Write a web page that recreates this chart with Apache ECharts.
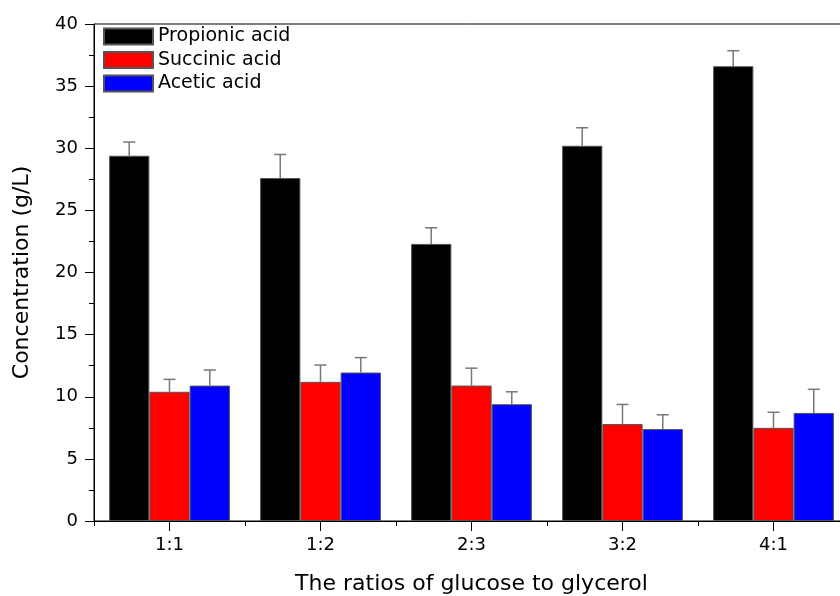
<!DOCTYPE html>
<html>
<head>
<meta charset="utf-8">
<script src="https://cdn.jsdelivr.net/npm/echarts@6/dist/echarts.min.js"></script>
<style>
html,body{margin:0;padding:0;background:#fff;}
#chart{width:840px;height:596px;}
</style>
</head>
<body>
<div id="chart"></div>
<script>
const categories = ['1:1', '1:2', '2:3', '3:2', '4:1'];
const seriesNames = ['Propionic acid', 'Succinic acid', 'Acetic acid'];
const propionic = [29.4, 27.6, 22.3, 30.2, 36.6];
const propionicErr = [1.1, 1.9, 1.3, 1.45, 1.25];
const succinic = [10.4, 11.2, 10.9, 7.8, 7.5];
const succinicErr = [1.0, 1.35, 1.4, 1.58, 1.25];
const acetic = [10.9, 11.95, 9.4, 7.4, 8.7];
const aceticErr = [1.25, 1.2, 1.0, 1.15, 1.9];
const yTicks = [0, 5, 10, 15, 20, 25, 30, 35, 40];

const values = [propionic, succinic, acetic];
const errors = [propionicErr, succinicErr, aceticErr];
const colors = ['#000000', '#ff0000', '#0000ff'];
const FONT = 'DejaVu Sans';
const CAT_GAP = 0.2;

const barSeries = seriesNames.map((name, i) => ({
  name: name,
  type: 'bar',
  data: values[i],
  barGap: '0%',
  barCategoryGap: '20%',
  itemStyle: { color: colors[i], borderColor: '#555', borderWidth: 1 },
  z: 2
}));

const errSeries = seriesNames.map((name, i) => ({
  type: 'custom',
  name: name + ' err',
  data: values[i].map((v, k) => [k, v, errors[i][k]]),
  encode: { x: 0, y: 1 },
  z: 5,
  silent: true,
  renderItem: function (params, api) {
    const k = api.value(0);
    const v = api.value(1);
    const e = api.value(2);
    const band = api.size([1, 0])[0];
    const bw = band * (1 - CAT_GAP) / 3;
    const base = api.coord([k, v]);
    const top = api.coord([k, v + e]);
    const x = base[0] + (i - 1) * bw;
    const half = 6;
    const st = { stroke: '#777', lineWidth: 1.5 };
    return {
      type: 'group',
      children: [
        { type: 'line', shape: { x1: x, y1: base[1], x2: x, y2: top[1] }, style: st },
        { type: 'line', shape: { x1: x - half, y1: top[1], x2: x + half, y2: top[1] }, style: st }
      ]
    };
  }
}));

const chart = echarts.init(document.getElementById('chart'), null, { renderer: 'canvas' });
chart.setOption({
  animation: false,
  backgroundColor: '#fff',
  textStyle: { fontFamily: FONT },
  grid: {
    left: 94, top: 24, width: 755, height: 497,
    outerBoundsMode: 'none',
    containLabel: false,
    show: true, borderColor: '#000', borderWidth: 1, backgroundColor: 'transparent'
  },
  legend: {
    data: seriesNames,
    orient: 'vertical',
    left: 103, top: 27,
    padding: 0,
    icon: 'rect',
    itemWidth: 49, itemHeight: 16, itemGap: 4.5,
    textStyle: { fontFamily: FONT, fontSize: 19, color: '#000' }
  },
  xAxis: [{
    type: 'category',
    data: categories,
    position: 'bottom',
    name: 'The ratios of glucose to glycerol',
    nameLocation: 'middle',
    nameGap: 52,
    nameTextStyle: { fontFamily: FONT, fontSize: 22, color: '#000' },
    axisLine: { show: true, lineStyle: { color: '#000', width: 1 } },
    axisTick: { show: true, alignWithLabel: true, length: 10, lineStyle: { color: '#000' } },
    axisLabel: { fontFamily: FONT, fontSize: 18, color: '#000', margin: 15 },
    splitLine: { show: false }
  }, {
    type: 'category',
    data: categories,
    position: 'bottom',
    offset: 0,
    axisLine: { show: false },
    axisTick: { show: true, length: 5, interval: 0, lineStyle: { color: '#000' } },
    axisLabel: { show: false },
    splitLine: { show: false }
  }],
  yAxis: {
    type: 'value',
    min: yTicks[0], max: yTicks[yTicks.length - 1], interval: 5,
    name: 'Concentration (g/L)',
    nameLocation: 'middle',
    nameRotate: 90,
    nameGap: 61,
    nameTextStyle: { fontFamily: FONT, fontSize: 22, color: '#000' },
    axisLine: { show: true, lineStyle: { color: '#000', width: 1 } },
    axisTick: { show: true, length: 9, lineStyle: { color: '#000' } },
    minorTick: { show: true, splitNumber: 2, length: 5, lineStyle: { color: '#000' } },
    axisLabel: { fontFamily: FONT, fontSize: 18, color: '#000', margin: 16 },
    splitLine: { show: false }
  },
  series: barSeries.concat(errSeries)
});
</script>
</body>
</html>
